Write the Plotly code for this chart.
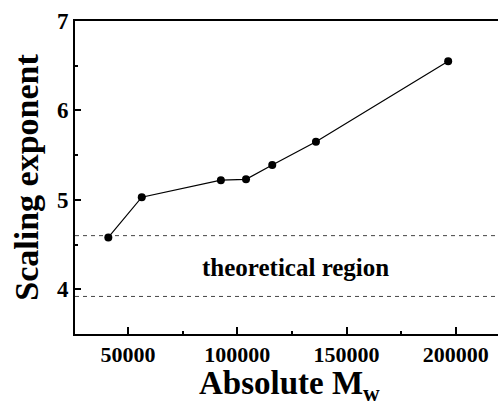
import plotly.graph_objects as go

# Data
mw = [41000, 56300, 92500, 104000, 116000, 136000, 196500]
exponent = [4.58, 5.03, 5.22, 5.23, 5.39, 5.65, 6.55]
region_bounds = [4.60, 3.92]
region_label = "theoretical region"
region_label_pos = (126500, 4.24)

x_range = [25750, 219300]
y_range = [3.5, 7.0]
x_ticks = [50000, 100000, 150000, 200000]
y_ticks = [4, 5, 6, 7]
x_title = "Absolute M<sub>w</sub>"
y_title = "Scaling exponent"

FONT = "Liberation Serif"

fig = go.Figure()

for b in region_bounds:
    fig.add_trace(go.Scatter(
        x=x_range, y=[b, b], mode="lines",
        line=dict(color="#444444", width=1, dash="4px,4px"),
        hoverinfo="skip", showlegend=False, cliponaxis=True))

fig.add_trace(go.Scatter(
    x=mw, y=exponent, mode="lines+markers",
    line=dict(color="black", width=1.2),
    marker=dict(color="black", size=8),
    showlegend=False, cliponaxis=False))

fig.add_annotation(
    x=region_label_pos[0], y=region_label_pos[1], text=region_label,
    showarrow=False, xref="x", yref="y",
    font=dict(family=FONT, size=25, color="black", weight="bold"))

fig.add_annotation(
    x=0.289, y=-0.164, xref="paper", yref="paper", xanchor="left", yanchor="middle",
    text=x_title, showarrow=False,
    font=dict(family=FONT, size=33, color="black", weight="bold"))

fig.update_layout(
    width=498, height=404,
    margin=dict(l=75, r=0, t=21, b=70),
    paper_bgcolor="white", plot_bgcolor="white",
    font=dict(family=FONT, color="black"),
)

fig.update_xaxes(
    range=x_range, tickvals=x_ticks, ticktext=[str(v) for v in x_ticks],
    showgrid=False, zeroline=False,
    showline=True, linecolor="black", linewidth=2, mirror=True,
    ticks="inside", ticklen=7, tickwidth=1.5, tickcolor="black",
    minor=dict(ticks="inside", ticklen=3, tickwidth=1.5, tickcolor="black",
               tick0=0, dtick=25000, showgrid=False),
    tickfont=dict(family=FONT, size=22, color="black", weight="bold"),
)

fig.update_yaxes(
    range=y_range, tickvals=y_ticks, ticktext=[str(v) for v in y_ticks],
    showgrid=False, zeroline=False,
    showline=True, linecolor="black", linewidth=2, mirror=False,
    ticks="inside", ticklen=6, tickwidth=1.5, tickcolor="black",
    minor=dict(ticks="inside", ticklen=3, tickwidth=1.5, tickcolor="black",
               tick0=0, dtick=0.5, showgrid=False),
    tickfont=dict(family=FONT, size=23, color="black", weight="bold"),
    title=dict(text=y_title,
               font=dict(family=FONT, size=34, color="black", weight="bold"),
               standoff=8),
)

fig.write_html("out.html")
